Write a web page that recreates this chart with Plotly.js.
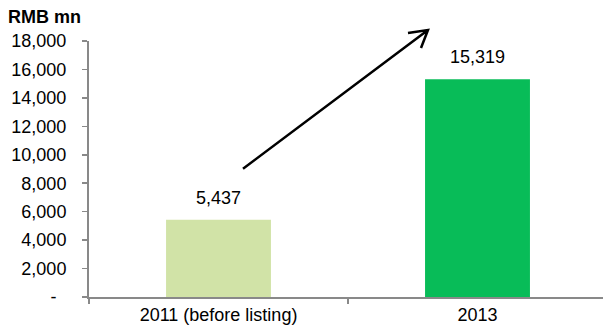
<!DOCTYPE html>
<html>
<head>
<meta charset="utf-8">
<script src="https://cdn.plot.ly/plotly-3.0.1.min.js"></script>
<style>html,body{margin:0;padding:0;background:#fff;overflow:hidden;}#chart{width:608px;height:333px;}</style>
</head>
<body>
<div id="chart"></div>
<script>
const categories = ["2011 (before listing)", "2013"];
const values = [5437, 15319];
const valueLabels = ["5,437", "15,319"];
const barColors = ["#d1e3a7", "#08bc58"];
const yTickVals = [0, 2000, 4000, 6000, 8000, 10000, 12000, 14000, 16000, 18000];
const yTickText = ["-\u00a0\u00a0", "2,000", "4,000", "6,000", "8,000", "10,000", "12,000", "14,000", "16,000", "18,000"];
const unitLabel = "RMB mn";

const FONT = "Liberation Sans, Arial, sans-serif";
const axisColor = "#898989";

const trace = {
  type: "bar",
  x: categories,
  y: values,
  marker: {color: barColors, line: {width: 0}},
  hoverinfo: "none",
  cliponaxis: false
};

const annotations = categories.map((c, i) => ({
  x: i, y: values[i], xref: "x", yref: "y",
  text: valueLabels[i], showarrow: false,
  yanchor: "middle", yshift: 22,
  font: {family: FONT, size: 18, color: "#000"}
}));

const layout = {
  width: 608, height: 333,
  margin: {l: 89, r: 1, t: 41, b: 35.5, pad: 0},
  paper_bgcolor: "#fff", plot_bgcolor: "#fff",
  showlegend: false,
  bargap: 0.595,
  title: {
    text: "<b>" + unitLabel + "</b>",
    xref: "container", yref: "container",
    x: 8/608, xanchor: "left",
    y: 1 - 17/333, yanchor: "middle",
    font: {family: FONT, size: 18, color: "#000"}
  },
  xaxis: {
    type: "category",
    range: [-0.5, 1.5],
    showline: true, linecolor: axisColor, linewidth: 2,
    ticks: "outside", tickson: "boundaries", ticklen: 5, tickcolor: axisColor, tickwidth: 1.5,
    showgrid: false, zeroline: false,
    tickfont: {family: FONT, size: 18, color: "#000"},
    fixedrange: true
  },
  yaxis: {
    range: [0, 18000],
    tickvals: yTickVals, ticktext: yTickText,
    showline: true, linecolor: axisColor, linewidth: 2,
    ticks: "outside", ticklen: 5, tickcolor: axisColor, tickwidth: 1.5,
    ticklabelstandoff: 12,
    showgrid: false, zeroline: false,
    tickfont: {family: FONT, size: 18, color: "#000"},
    fixedrange: true
  },
  annotations: annotations,
  shapes: [{
    type: "path", xref: "paper", yref: "paper",
    path: "M 0.2973 0.5010 L 0.6544 1.0429 M 0.6158 1.0312 L 0.6544 1.0429 L 0.6409 0.9727",
    line: {color: "#000", width: 2.5}
  }]
};

Plotly.newPlot("chart", [trace], layout, {displayModeBar: false, staticPlot: true});
</script>
</body>
</html>
